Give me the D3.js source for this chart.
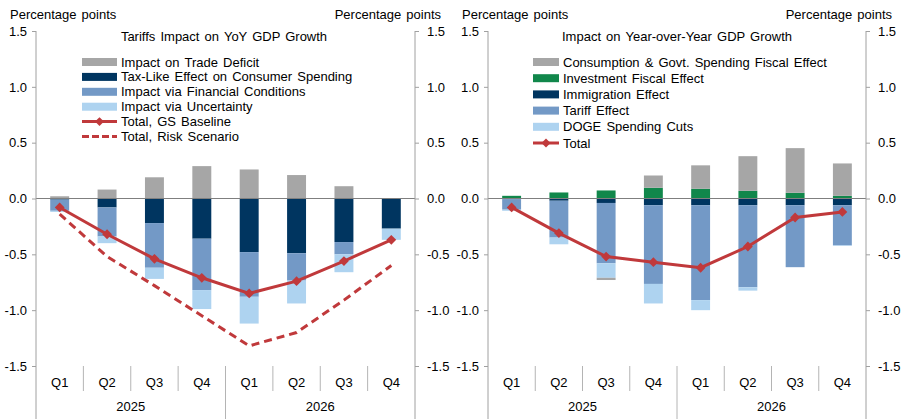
<!DOCTYPE html>
<html>
<head>
<meta charset="utf-8">
<script src="https://cdn.jsdelivr.net/npm/d3@7"></script>
<style>
  body { margin: 0; background: #fff; }
  svg { font-family: "Liberation Sans", Arial, sans-serif; font-size: 13px; word-spacing: 1.5px; }
</style>
</head>
<body>
<svg id="chart" width="905" height="419"></svg>
<script>
// categories
const quarters = ['Q1', 'Q2', 'Q3', 'Q4', 'Q1', 'Q2', 'Q3', 'Q4'];
const years = ['2025', '2026'];
const yTicks = [1.5, 1.0, 0.5, 0.0, -0.5, -1.0, -1.5];

// left panel: tariffs impact on yoy gdp growth
const tradeDeficit = [0.02, 0.08, 0.19, 0.29, 0.26, 0.21, 0.11, 0];
const taxLike = [-0.01, -0.08, -0.22, -0.36, -0.48, -0.49, -0.39, -0.27];
const financial = [-0.10, -0.26, -0.40, -0.46, -0.40, -0.245, -0.11, 0];
const uncertainty = [-0.01, -0.06, -0.10, -0.17, -0.24, -0.205, -0.16, -0.10];
const gsBaseline = [-0.08, -0.32, -0.54, -0.71, -0.85, -0.74, -0.56, -0.37];
const riskScenario = [-0.14, -0.52, -0.78, -1.05, -1.32, -1.20, -0.91, -0.60];

// right panel: impact on year-over-year gdp growth
const consumption = [0, 0, -0.02, 0.11, 0.21, 0.31, 0.40, 0.29];
const investment = [0.024, 0.054, 0.072, 0.096, 0.087, 0.069, 0.051, 0.024];
const immigration = [-0.005, -0.02, -0.04, -0.06, -0.06, -0.06, -0.06, -0.06];
const tariff = [-0.095, -0.33, -0.54, -0.705, -0.85, -0.735, -0.555, -0.36];
const dogeCuts = [-0.01, -0.06, -0.13, -0.175, -0.09, -0.03, 0, -0.005];
const totalRight = [-0.08, -0.31, -0.52, -0.57, -0.62, -0.43, -0.17, -0.12];

const GRAY = '#a6a6a6', NAVY = '#003560', MID = '#7399c6', LIGHT = '#aed3f0',
  GREEN = '#11874b', RED = '#c0393b';

const svg = d3.select('#chart');
const fmt = d => (Math.abs(d) < 1e-9 ? 0 : d).toFixed(1);

function drawPanel(p) {
  const y = d3.scaleLinear().domain([-1.5, 1.5]).range([366, 31]);
  const grid = d3.scaleBand().domain(d3.range(quarters.length)).range([p.left, p.right]);
  const bw = grid.bandwidth() * 0.4;
  const cx = i => grid(i) + grid.bandwidth() / 2;
  const yearX = d3.scaleBand().domain(years).range([p.left, p.right]);

  const g = svg.append('g');

  // bars, stacked with diverging offset
  const rows = quarters.map((q, i) => {
    const r = { i };
    p.series.forEach(s => (r[s.key] = s.values[i]));
    return r;
  });
  const stacked = d3.stack()
    .keys(p.series.map(s => s.key))
    .offset(d3.stackOffsetDiverging)(rows);

  stacked.forEach((layer, k) => {
    g.append('g')
      .selectAll('rect')
      .data(layer)
      .join('rect')
      .attr('x', d => cx(d.data.i) - bw / 2)
      .attr('width', bw)
      .attr('y', d => y(Math.max(d[0], d[1])))
      .attr('height', d => Math.abs(y(d[0]) - y(d[1])))
      .attr('fill', p.series[k].color);
  });

  // zero line
  g.append('line')
    .attr('x1', p.left).attr('x2', p.right)
    .attr('y1', y(0)).attr('y2', y(0))
    .attr('stroke', '#7f7f7f');

  // axes
  const leftAxis = g.append('g')
    .attr('transform', `translate(${p.left},0)`)
    .call(d3.axisLeft(y).tickValues(yTicks).tickFormat(fmt).tickSize(4).tickPadding(5));
  const rightAxis = g.append('g')
    .attr('transform', `translate(${p.right},0)`)
    .call(d3.axisRight(y).tickValues(yTicks).tickFormat(fmt).tickSize(4).tickPadding(8));
  [leftAxis, rightAxis].forEach(a => {
    a.select('.domain').remove();
    a.selectAll('line').attr('stroke', '#a0a0a0');
    a.selectAll('text').attr('fill', '#000').style('font-size', '13px');
  });
  [p.left, p.right].forEach(xv => {
    g.append('line')
      .attr('x1', xv).attr('x2', xv).attr('y1', y(1.5)).attr('y2', 419)
      .attr('stroke', '#a0a0a0');
  });

  // category axis
  d3.range(1, quarters.length).forEach(i => {
    const full = i === quarters.length / 2;
    g.append('line')
      .attr('x1', grid(i)).attr('x2', grid(i))
      .attr('y1', y(-1.5)).attr('y2', full ? 419 : 391)
      .attr('stroke', '#b4b4b4');
  });
  g.append('g')
    .selectAll('text')
    .data(quarters)
    .join('text')
    .attr('x', (d, i) => cx(i))
    .attr('y', 387)
    .attr('text-anchor', 'middle')
    .text(d => d);
  g.append('g')
    .selectAll('text')
    .data(years)
    .join('text')
    .attr('x', d => yearX(d) + yearX.bandwidth() / 2)
    .attr('y', 411)
    .attr('text-anchor', 'middle')
    .text(d => d);

  // lines
  p.lines.forEach(l => {
    const line = d3.line().x((d, i) => cx(i)).y(d => y(d));
    g.append('path')
      .datum(l.values)
      .attr('d', line)
      .attr('fill', 'none')
      .attr('stroke', RED)
      .attr('stroke-width', 3)
      .attr('stroke-dasharray', l.dashed ? '8,5' : null);
    if (l.marker) {
      g.append('g')
        .selectAll('path')
        .data(l.values)
        .join('path')
        .attr('d', d3.symbol(d3.symbolSquare, 48))
        .attr('transform', (d, i) => `translate(${cx(i)},${y(d)}) rotate(45)`)
        .attr('fill', RED);
    }
  });

  // unit labels
  svg.append('text').attr('x', p.left - 26).attr('y', 19).text('Percentage points');
  svg.append('text').attr('x', p.right + 26).attr('y', 19)
    .attr('text-anchor', 'end').text('Percentage points');

  // title + legend
  svg.append('text').attr('x', p.titleX).attr('y', 41)
    .attr('text-anchor', 'middle').text(p.title);
  const lg = svg.append('g').attr('transform', `translate(${p.legendX},${p.legendY})`);
  p.legend.forEach((e, i) => {
    const row = lg.append('g').attr('transform', `translate(0,${i * p.legendStep})`);
    if (e.type === 'bar') {
      row.append('rect').attr('x', 0).attr('y', -4).attr('width', p.swatch).attr('height', 8)
        .attr('fill', e.color);
    } else {
      row.append('line').attr('x1', 0).attr('x2', p.swatch).attr('y1', 0).attr('y2', 0)
        .attr('stroke', RED).attr('stroke-width', 3)
        .attr('stroke-dasharray', e.dashed ? '7,3' : null);
      if (e.marker) {
        row.append('path').attr('d', d3.symbol(d3.symbolSquare, 40))
          .attr('transform', `translate(${p.swatch / 2},0) rotate(45)`).attr('fill', RED);
      }
    }
    row.append('text').attr('x', p.swatch + 4).attr('y', 0).attr('dy', '0.35em').text(e.label);
  });
}

drawPanel({
  left: 36, right: 415,
  title: 'Tariffs Impact on YoY GDP Growth', titleX: 224,
  legendX: 82, legendY: 62, legendStep: 14.9, swatch: 35,
  series: [
    { key: 'tax', values: taxLike, color: NAVY },
    { key: 'fin', values: financial, color: MID },
    { key: 'unc', values: uncertainty, color: LIGHT },
    { key: 'trade', values: tradeDeficit, color: GRAY }
  ],
  lines: [
    { values: riskScenario, dashed: true },
    { values: gsBaseline, marker: true }
  ],
  legend: [
    { type: 'bar', color: GRAY, label: 'Impact on Trade Deficit' },
    { type: 'bar', color: NAVY, label: 'Tax-Like Effect on Consumer Spending' },
    { type: 'bar', color: MID, label: 'Impact via Financial Conditions' },
    { type: 'bar', color: LIGHT, label: 'Impact via Uncertainty' },
    { type: 'line', marker: true, label: 'Total, GS Baseline' },
    { type: 'line', dashed: true, label: 'Total, Risk Scenario' }
  ]
});

drawPanel({
  left: 488, right: 866,
  title: 'Impact on Year-over-Year  GDP Growth', titleX: 677,
  legendX: 533, legendY: 62, legendStep: 16.2, swatch: 26,
  series: [
    { key: 'imm', values: immigration, color: NAVY },
    { key: 'tar', values: tariff, color: MID },
    { key: 'doge', values: dogeCuts, color: LIGHT },
    { key: 'inv', values: investment, color: GREEN },
    { key: 'cons', values: consumption, color: GRAY }
  ],
  lines: [
    { values: totalRight, marker: true }
  ],
  legend: [
    { type: 'bar', color: GRAY, label: 'Consumption & Govt. Spending Fiscal Effect' },
    { type: 'bar', color: GREEN, label: 'Investment Fiscal Effect' },
    { type: 'bar', color: NAVY, label: 'Immigration Effect' },
    { type: 'bar', color: MID, label: 'Tariff Effect' },
    { type: 'bar', color: LIGHT, label: 'DOGE Spending Cuts' },
    { type: 'line', marker: true, label: 'Total' }
  ]
});
</script>
</body>
</html>
